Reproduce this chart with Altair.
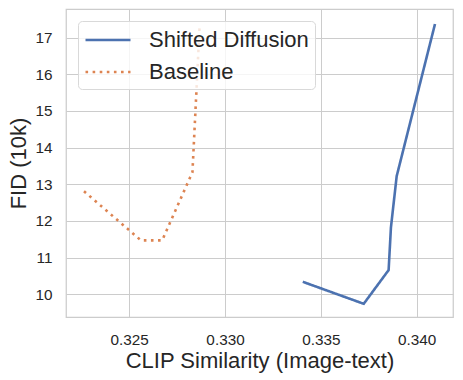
import altair as alt
import pandas as pd

series_sd = "Shifted Diffusion"
series_bl = "Baseline"

sd_clip = [0.33406, 0.33724, 0.33854, 0.33866, 0.33896, 0.34096]
sd_fid = [10.34, 9.74, 10.66, 11.82, 13.22, 17.37]

bl_clip = [0.32264, 0.32561, 0.32672, 0.32830, 0.32868]
bl_fid = [12.81, 11.47, 11.47, 13.33, 17.37]

x_ticks = [0.325, 0.330, 0.335, 0.340]
y_ticks = [10, 11, 12, 13, 14, 15, 16, 17]

rows = []
for i, (x, y) in enumerate(zip(sd_clip, sd_fid)):
    rows.append({"series": series_sd, "clip": x, "fid": y, "idx": i})
for i, (x, y) in enumerate(zip(bl_clip, bl_fid)):
    rows.append({"series": series_bl, "clip": x, "fid": y, "idx": i})
df = pd.DataFrame(rows)

FONT = "Liberation Sans"
TXT = "#262626"
GRID = "#cccccc"

chart = alt.Chart(df).mark_line(strokeWidth=2.6, strokeCap="butt").encode(
    x=alt.X("clip:Q",
            scale=alt.Scale(domain=[0.3217, 0.3419], nice=False, zero=False),
            axis=alt.Axis(values=x_ticks, format=".3f",
                          title="CLIP Similarity (Image-text)",
                          labelPadding=15, titlePadding=3)),
    y=alt.Y("fid:Q",
            scale=alt.Scale(domain=[9.38, 17.78], nice=False, zero=False),
            axis=alt.Axis(values=y_ticks, format="d", title="FID (10k)",
                          labelPadding=14, titlePadding=4)),
    color=alt.Color("series:N",
                    scale=alt.Scale(domain=[series_sd, series_bl],
                                    range=["#4c72b0", "#dd8452"]),
                    legend=alt.Legend(title=None)),
    strokeDash=alt.StrokeDash("series:N",
                              scale=alt.Scale(domain=[series_sd, series_bl],
                                              range=[[1, 0], [2.6, 4.5]]),
                              legend=alt.Legend(title=None)),
    order="idx:Q",
).properties(
    width=387, height=308,
    autosize=alt.AutoSizeParams(type="none"),
    padding={"left": 58, "top": 1, "right": 2, "bottom": 60},
).configure_view(
    stroke=GRID, strokeWidth=1.25
).configure_axis(
    grid=True, gridColor=GRID, gridWidth=1, domain=False,
    ticks=False, tickSize=0,
    labelFont=FONT, labelFontSize=15.3, labelColor=TXT,
    titleFont=FONT, titleFontSize=22, titleColor=TXT, titleFontWeight="normal",
).configure_legend(
    orient="top-left", offset=12,
    labelFont=FONT, labelFontSize=22, labelColor=TXT,
    symbolType="M-2,0H2", symbolSize=506, symbolStrokeWidth=2.6,
    symbolOffset=11, labelOffset=28, rowPadding=8, padding=6,
    fillColor="rgba(255,255,255,0.8)", strokeColor="#d9d9d9", cornerRadius=4,
)

chart.save("out.html", embed_options={"renderer": "svg", "actions": False})
